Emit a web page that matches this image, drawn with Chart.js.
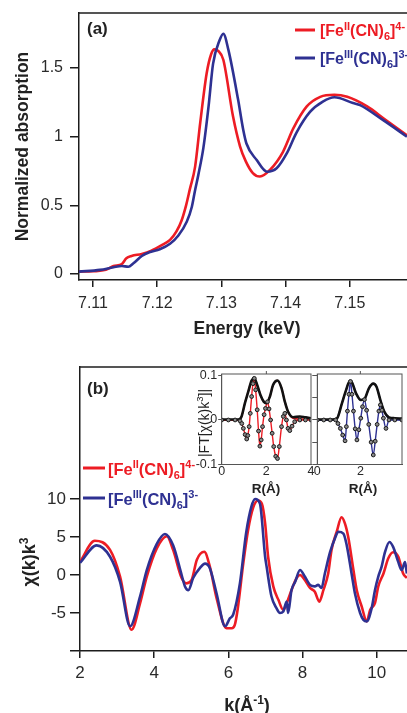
<!DOCTYPE html>
<html><head><meta charset="utf-8">
<script src="https://cdn.jsdelivr.net/npm/chart.js@4.4.1/dist/chart.umd.min.js"></script>
<style>
html,body{margin:0;padding:0;background:#fff;overflow:hidden;width:407px;height:713px;}
canvas{position:absolute;}
</style></head><body>
<canvas id="ca" style="left:0;top:-20px" width="407" height="365"></canvas>
<canvas id="cb" style="left:0;top:340px" width="407" height="373"></canvas>
<canvas id="ci1" style="left:180px;top:354px" width="145" height="145"></canvas>
<canvas id="ci2" style="left:290px;top:354px" width="117" height="145"></canvas>
<script>
// ---------- DATA ----------
// Panel (a): XANES
const energyRed = [7.1078, 7.1100, 7.1120, 7.1132, 7.1145, 7.1152, 7.1160, 7.1176, 7.1191, 7.1207, 7.1220, 7.1230, 7.1238, 7.1245, 7.1251, 7.1259, 7.1267, 7.1277, 7.1284, 7.1289, 7.1295, 7.1303, 7.1318, 7.1329, 7.1338, 7.1349, 7.1360, 7.1376, 7.1396, 7.1412, 7.1433, 7.1454, 7.1476, 7.1496, 7.1527, 7.1555, 7.1589];
const absRed    = [0.017, 0.020, 0.030, 0.058, 0.073, 0.114, 0.131, 0.146, 0.170, 0.210, 0.248, 0.310, 0.390, 0.500, 0.620, 0.780, 1.100, 1.460, 1.600, 1.636, 1.625, 1.560, 1.150, 0.930, 0.820, 0.735, 0.710, 0.760, 0.890, 1.060, 1.220, 1.290, 1.305, 1.290, 1.220, 1.125, 1.010];
const energyBlue = [7.1078, 7.1111, 7.1132, 7.1145, 7.1155, 7.1163, 7.1176, 7.1189, 7.1204, 7.1220, 7.1233, 7.1246, 7.1254, 7.1259, 7.1264, 7.1272, 7.1280, 7.1287, 7.1297, 7.1303, 7.1311, 7.1326, 7.1334, 7.1339, 7.1355, 7.1371, 7.1386, 7.1402, 7.1417, 7.1438, 7.1458, 7.1476, 7.1505, 7.1516, 7.1552, 7.1589];
const absBlue    = [0.017, 0.030, 0.049, 0.058, 0.053, 0.078, 0.131, 0.160, 0.180, 0.220, 0.280, 0.380, 0.490, 0.610, 0.720, 0.920, 1.220, 1.530, 1.700, 1.750, 1.630, 1.270, 1.050, 0.950, 0.830, 0.745, 0.770, 0.880, 1.030, 1.180, 1.255, 1.287, 1.245, 1.230, 1.120, 1.000];
const energyTicks = [7.11, 7.12, 7.13, 7.14, 7.15];
const absTicks = [0, 0.5, 1, 1.5];

// Panel (b): EXAFS chi(k)k^3
const kRed   = [2.00, 2.40, 2.81, 3.08, 3.39, 3.62, 3.80, 4.07, 4.34, 4.51, 4.74, 4.87, 5.01, 5.15, 5.35, 5.50, 5.68, 5.95, 6.09, 6.17, 6.25, 6.40, 6.53, 6.67, 6.80, 6.90, 6.99, 7.07, 7.21, 7.35, 7.48, 7.57, 7.70, 7.84, 7.93, 8.06, 8.20, 8.33, 8.45, 8.56, 8.69, 8.78, 8.92, 9.05, 9.14, 9.23, 9.37, 9.46, 9.59, 9.73, 9.82, 9.95, 10.04, 10.18, 10.31, 10.44, 10.58, 10.71, 10.81];
const chiRed = [1.74, 4.5, 3.3, -0.2, -7.2, -3.7, -0.2, 3.5, 5.1, 3.3, -0.4, -1.1, -0.65, 2.0, 3.05, 1.1, -3.0, -7.0, -7.0, -6.6, -4.5, 1.5, 5.9, 8.9, 9.8, 9.4, 6.8, 2.4, -1.5, -3.3, -4.6, -3.7, -2.0, -0.4, 0.0, -0.65, -1.7, -2.2, -3.5, -2.0, 0.2, 3.3, 5.7, 7.6, 6.8, 5.0, 0.65, -2.0, -4.1, -6.1, -4.6, -3.7, -1.5, 0.2, 2.2, 3.0, 2.4, 0.2, -0.4];
const kBlue   = [2.00, 2.45, 2.81, 3.08, 3.35, 3.62, 3.80, 4.07, 4.29, 4.51, 4.74, 4.83, 4.92, 5.05, 5.23, 5.37, 5.50, 5.68, 5.91, 6.04, 6.13, 6.31, 6.48, 6.62, 6.72, 6.85, 6.99, 7.03, 7.16, 7.30, 7.39, 7.48, 7.57, 7.61, 7.70, 7.80, 7.93, 8.06, 8.20, 8.33, 8.42, 8.51, 8.60, 8.74, 8.87, 8.96, 9.10, 9.19, 9.32, 9.41, 9.55, 9.64, 9.73, 9.86, 9.95, 10.04, 10.13, 10.22, 10.34, 10.44, 10.58, 10.67, 10.76, 10.81];
const chiBlue = [1.6, 3.9, 2.4, -0.9, -6.75, -2.8, 0.65, 4.1, 5.4, 3.9, 0.0, -1.5, -2.0, -0.4, 0.9, 1.5, 0.9, -2.4, -6.75, -5.7, -5.2, -1.1, 5.6, 9.0, 10.0, 9.4, 2.4, 1.1, -2.8, -4.4, -5.0, -4.8, -3.5, -5.0, -2.0, -0.9, 0.65, -0.2, -1.3, -1.5, -1.3, -1.7, 0.2, 3.0, 4.8, 5.7, 5.45, 3.9, 0.2, -2.4, -5.0, -5.9, -6.1, -4.4, -2.0, -0.2, 1.1, 3.0, 4.35, 3.7, 1.7, 0.65, 1.7, 0.2];
const kTicks = [2, 4, 6, 8, 10];
const chiTicks = [-10, -5, 0, 5, 10];

// Insets: |FT| magnitude and oscillating part; data (black dots) and fit (coloured line)
const rMagFe2 = [0, 0.2, 0.4, 0.6, 0.74, 0.89, 1.04, 1.19, 1.34, 1.46, 1.59, 1.74, 1.89, 2.00, 2.16, 2.30, 2.50, 2.68, 2.83, 2.97, 3.20, 3.50, 3.75, 4.00];
const magFe2Data = [0.001, 0.001, 0.001, 0.001, 0.001, 0.008, 0.038, 0.064, 0.089, 0.094, 0.079, 0.056, 0.041, 0.038, 0.053, 0.079, 0.089, 0.072, 0.041, 0.019, 0.006, 0.008, 0.006, 0.004];
const magFe2Fit  = [0.0, 0.0, 0.0, 0.0, 0.0, 0.008, 0.038, 0.064, 0.089, 0.094, 0.079, 0.056, 0.041, 0.038, 0.053, 0.079, 0.089, 0.072, 0.041, 0.019, 0.004, 0.002, 0.002, 0.002];
const rOscFe2 = [0, 0.3, 0.6, 0.82, 0.90, 0.97, 1.05, 1.12, 1.17, 1.23, 1.28, 1.34, 1.40, 1.46, 1.52, 1.59, 1.65, 1.71, 1.77, 1.83, 1.90, 1.96, 2.05, 2.12, 2.19, 2.26, 2.33, 2.42, 2.50, 2.58, 2.68, 2.76, 2.83, 2.90, 2.97, 3.05, 3.15, 3.27, 3.50, 3.75, 4.00];
const oscFe2Data = [0, 0, 0, -0.002, -0.008, -0.019, -0.033, -0.043, -0.035, -0.015, 0.015, 0.053, 0.082, 0.094, 0.068, 0.023, -0.025, -0.059, -0.045, -0.015, 0.012, 0.026, 0.041, 0.025, 0.0, -0.030, -0.060, -0.082, -0.087, -0.060, -0.015, 0.008, 0.015, 0.0, -0.019, -0.024, -0.014, -0.004, 0, 0, 0];
const oscFe2Fit  = oscFe2Data.slice();
const rMagFe3 = [0, 0.2, 0.4, 0.6, 0.70, 0.92, 1.14, 1.32, 1.51, 1.58, 1.80, 2.02, 2.19, 2.39, 2.60, 2.75, 2.93, 3.11, 3.33, 3.60, 3.93];
const magFe3Data = [0.001, 0.001, 0.001, 0.001, 0.001, 0.004, 0.037, 0.065, 0.088, 0.087, 0.060, 0.045, 0.047, 0.071, 0.082, 0.075, 0.045, 0.019, 0.006, 0.004, 0.003];
const magFe3Fit  = [0.0, 0.0, 0.0, 0.0, 0.0, 0.004, 0.037, 0.065, 0.088, 0.087, 0.060, 0.045, 0.047, 0.071, 0.082, 0.075, 0.045, 0.019, 0.004, 0.002, 0.001];
const rOscFe3 = [0, 0.3, 0.6, 0.85, 0.96, 1.07, 1.18, 1.29, 1.35, 1.40, 1.47, 1.54, 1.61, 1.68, 1.76, 1.84, 1.93, 2.02, 2.10, 2.19, 2.29, 2.39, 2.50, 2.60, 2.69, 2.78, 2.86, 2.93, 3.00, 3.07, 3.19, 3.33, 3.60, 3.93];
const oscFe3Data = [0, 0, 0, 0, -0.008, -0.019, -0.034, -0.047, -0.015, 0.020, 0.058, 0.087, 0.058, 0.020, -0.020, -0.045, -0.022, 0.004, 0.030, 0.046, 0.022, -0.010, -0.050, -0.079, -0.048, -0.010, 0.020, 0.034, 0.022, 0.004, -0.019, 0.0, 0, 0];
const oscFe3Fit  = oscFe3Data.slice();
const rTicks1 = [0, 2, 4];
const rTicks2 = [0, 2];
const ftTicks1 = [-0.1, 0, 0.1];
const ftTicks2 = [-0.1, -0.05, 0, 0.05, 0.1];

// Series names (rich text parts)
const nameFe2 = [{t:'[Fe'},{t:'II',s:'sup'},{t:'(CN)'},{t:'6',s:'sub'},{t:']'},{t:'4-',s:'sup'}];
const nameFe3 = [{t:'[Fe'},{t:'III',s:'sup'},{t:'(CN)'},{t:'6',s:'sub'},{t:']'},{t:'3-',s:'sup'}];

// ---------- STYLE / HELPERS ----------
const RED = '#ED1C24', BLUE = '#2E3192', AX = '#1c1c1c', TXT = '#2a2a2a';
const FAM = "'Liberation Sans', Arial, Helvetica, sans-serif";
Chart.defaults.font.family = FAM;
Chart.defaults.color = TXT;
Chart.defaults.animation = false;

function pts(xs, ys) { return xs.map((x, i) => ({x: x, y: ys[i]})); }
function fixedTicks(vals) { return function (scale) { scale.ticks = vals.map(v => ({value: v})); }; }

function drawRich(ctx, parts, x, y, o) {
  const size = o.size, small = o.small || Math.round(size * 0.68), w = o.weight || 'normal';
  const segs = parts.map(p => ({t: p.t, s: p.s, font: w + ' ' + (p.s ? small : size) + 'px ' + FAM}));
  ctx.save();
  let total = 0;
  segs.forEach(s => { ctx.font = s.font; s.w = ctx.measureText(s.t).width; total += s.w; });
  ctx.translate(x, y);
  if (o.rot) ctx.rotate(o.rot);
  let cx = o.align === 'center' ? -total / 2 : 0;
  const base = o.vcenter ? size * 0.36 : 0;
  ctx.fillStyle = o.color; ctx.textBaseline = 'alphabetic'; ctx.textAlign = 'left';
  segs.forEach(s => {
    ctx.font = s.font;
    const dy = s.s === 'sup' ? -size * 0.4 : (s.s === 'sub' ? size * 0.24 : 0);
    ctx.fillText(s.t, cx, base + dy);
    cx += s.w;
  });
  ctx.restore();
}
function seg(ctx, x1, y1, x2, y2, color, width) {
  ctx.save(); ctx.strokeStyle = color; ctx.lineWidth = width; ctx.lineCap = 'butt';
  ctx.beginPath(); ctx.moveTo(x1, y1); ctx.lineTo(x2, y2); ctx.stroke(); ctx.restore();
}
function axisOpts(min, max, ticks, fmt, size, tickLen, pad, fontSize, isX) {
  return {
    type: 'linear', min: min, max: max,
    afterBuildTicks: fixedTicks(ticks),
    afterFit: isX ? function (s) { s.height = size; } : function (s) { s.width = size; },
    grid: {drawOnChartArea: false, drawTicks: tickLen > 0, tickLength: tickLen, color: AX, lineWidth: 1.5},
    border: {display: true, color: AX, width: 1.5},
    ticks: {padding: pad, font: {size: fontSize}, color: TXT, callback: fmt, autoSkip: false, maxRotation: 0, minRotation: 0}
  };
}
const mainLine = (d, c) => ({data: d, borderColor: c, backgroundColor: c, borderWidth: 2.6, pointRadius: 0, cubicInterpolationMode: 'monotone', fill: false});

// ---------- PANEL (a) ----------
const offA = 20; // canvas top is -20px
new Chart(document.getElementById('ca'), {
  type: 'line',
  data: {datasets: [mainLine(pts(energyBlue, absBlue), BLUE), mainLine(pts(energyRed, absRed), RED)]},
  options: {
    responsive: false, animation: false,
    layout: {padding: {top: 33, left: 0, right: 0, bottom: 0}},
    plugins: {legend: {display: false}, tooltip: {enabled: false}},
    scales: {
      x: axisOpts(7.10782, 7.15891, energyTicks, v => Number(v).toFixed(2), 65, 7, 7, 16, true),
      y: axisOpts(-0.0437, 1.9006, absTicks, v => String(v), 79, 9, 7, 16, false)
    }
  },
  plugins: [{id: 'decoA', afterDraw(c) {
    const ctx = c.ctx, a = c.chartArea;
    seg(ctx, a.left, a.top, a.right, a.top, AX, 1.5);
    drawRich(ctx, [{t: '(a)'}], 87, 34 + offA, {size: 17, weight: 'bold', color: '#222'});
    seg(ctx, 295, 30 + offA, 315, 30 + offA, RED, 3);
    drawRich(ctx, nameFe2, 320, 36 + offA, {size: 16, small: 11, weight: 'bold', color: RED});
    seg(ctx, 295, 58 + offA, 315, 58 + offA, BLUE, 3);
    drawRich(ctx, nameFe3, 320, 64 + offA, {size: 16, small: 11, weight: 'bold', color: BLUE});
    drawRich(ctx, [{t: 'Energy (keV)'}], 247, 334 + offA, {size: 17.5, weight: 'bold', color: '#222', align: 'center'});
    drawRich(ctx, [{t: 'Normalized absorption'}], 22, 146.5 + offA, {size: 17.5, weight: 'bold', color: '#222', align: 'center', rot: -Math.PI / 2, vcenter: true});
  }}]
});

// ---------- PANEL (b) ----------
const offB = -340;
new Chart(document.getElementById('cb'), {
  type: 'line',
  data: {datasets: [mainLine(pts(kBlue, chiBlue), BLUE), mainLine(pts(kRed, chiRed), RED)]},
  options: {
    responsive: false, animation: false,
    layout: {padding: {top: 27, left: 0, right: 0, bottom: 0}},
    plugins: {legend: {display: false}, tooltip: {enabled: false}},
    scales: {
      x: axisOpts(2, 10.814, kTicks, v => String(v), 62, 7, 5, 17, true),
      y: axisOpts(-10, 27.37, chiTicks, v => (v === -10 ? '' : String(v)), 80, 10, 4, 17, false)
    }
  },
  plugins: [{id: 'decoB', afterDraw(c) {
    const ctx = c.ctx, a = c.chartArea;
    seg(ctx, a.left, a.top, a.right, a.top, AX, 1.5);
    drawRich(ctx, [{t: '(b)'}], 87, 394 + offB, {size: 17, weight: 'bold', color: '#222'});
    seg(ctx, 83, 468 + offB, 105, 468 + offB, RED, 3);
    drawRich(ctx, nameFe2, 108, 475 + offB, {size: 16.5, small: 11, weight: 'bold', color: RED});
    seg(ctx, 83, 498 + offB, 105, 498 + offB, BLUE, 3);
    drawRich(ctx, nameFe3, 108, 505 + offB, {size: 16.5, small: 11, weight: 'bold', color: BLUE});
    drawRich(ctx, [{t: 'k(Å'}, {t: '-1', s: 'sup'}, {t: ')'}], 247, 711 + offB, {size: 18, small: 12, weight: 'bold', color: '#222', align: 'center'});
    drawRich(ctx, [{t: 'χ(k)k'}, {t: '3', s: 'sup'}], 29, 562 + offB, {size: 18, small: 12, weight: 'bold', color: '#222', align: 'center', rot: -Math.PI / 2, vcenter: true});
  }}]
});

// ---------- INSETS ----------
function insetDatasets(rm, mData, mFit, ro, oData, oFit, col) {
  return [
    {data: pts(ro, oData), showLine: false, pointRadius: 1.9, pointBorderWidth: 1, pointBorderColor: '#1a1a1a', pointBackgroundColor: '#8a8a8a'},
    {data: pts(rm, mData), borderColor: '#111', borderWidth: 2.6, pointRadius: 0, cubicInterpolationMode: 'monotone'},
    {data: pts(ro, oFit), borderColor: col, borderWidth: 1.4, pointRadius: 0, cubicInterpolationMode: 'monotone'},
    {data: pts(rm, mFit), borderColor: col, borderWidth: 1.6, pointRadius: 0, cubicInterpolationMode: 'monotone'}
  ];
}
function insetAxisX(max, ticks) {
  const o = axisOpts(0, max, ticks, v => String(v), 34.5, 0, 1, 12, true);
  o.grid = {drawOnChartArea: false, drawTicks: false, color: '#555', lineWidth: 1};
  o.border = {display: true, color: '#555', width: 1};
  o.ticks.font = {size: 12.5, lineHeight: 1};
  return o;
}
function insetAxisY(ticks, fmt, width, tickLen, pad) {
  const o = axisOpts(-0.1005, 0.1038, ticks, fmt, width, tickLen, pad, 12.5, false);
  o.grid.color = '#555'; o.grid.lineWidth = 1;
  o.border = {display: true, color: '#555', width: 1};
  return o;
}
function frameInset(c) {
  const ctx = c.ctx, a = c.chartArea;
  ctx.save(); ctx.strokeStyle = '#555'; ctx.lineWidth = 1;
  ctx.strokeRect(a.left, a.top, a.right - a.left, a.bottom - a.top);
  const x2 = c.scales.x.getPixelForValue(2);
  ctx.beginPath(); ctx.moveTo(x2, a.top); ctx.lineTo(x2, a.top - 3); ctx.stroke();
  ctx.restore();
}
const offIy = -354;
new Chart(document.getElementById('ci1'), {
  type: 'line',
  data: {datasets: insetDatasets(rMagFe2, magFe2Data, magFe2Fit, rOscFe2, oscFe2Data, oscFe2Fit, RED)},
  options: {
    responsive: false, animation: false,
    layout: {padding: {top: 20, left: 0, right: 14, bottom: 0}},
    plugins: {legend: {display: false}, tooltip: {enabled: false}},
    scales: {
      x: insetAxisX(4, rTicks1),
      y: insetAxisY(ftTicks1, v => String(v), 41.7, 3.5, 1)
    }
  },
  plugins: [{id: 'decoI1', afterDraw(c) {
    frameInset(c);
    const ctx = c.ctx, ox = -180;
    drawRich(ctx, [{t: 'R(Å)'}], 266 + ox, 493 + offIy, {size: 13.5, weight: 'bold', color: '#222', align: 'center'});
    drawRich(ctx, [{t: '|FT[χ(k)k'}, {t: '3', s: 'sup'}, {t: ']|'}], 204 + ox, 423 + offIy, {size: 14, small: 9.5, color: '#222', align: 'center', rot: -Math.PI / 2, vcenter: true});
  }}]
});
new Chart(document.getElementById('ci2'), {
  type: 'line',
  data: {datasets: insetDatasets(rMagFe3, magFe3Data, magFe3Fit, rOscFe3, oscFe3Data, oscFe3Fit, BLUE)},
  options: {
    responsive: false, animation: false,
    layout: {padding: {top: 20, left: 0, right: 0, bottom: 0}},
    plugins: {legend: {display: false}, tooltip: {enabled: false}},
    scales: {
      x: insetAxisX(3.934, rTicks2),
      y: insetAxisY(ftTicks2, v => '', 27.3, 5, 0)
    }
  },
  plugins: [{id: 'decoI2', afterDraw(c) {
    frameInset(c);
    drawRich(c.ctx, [{t: 'R(Å)'}], 363 - 290, 493 + offIy, {size: 13.5, weight: 'bold', color: '#222', align: 'center'});
  }}]
});
</script>
</body></html>
